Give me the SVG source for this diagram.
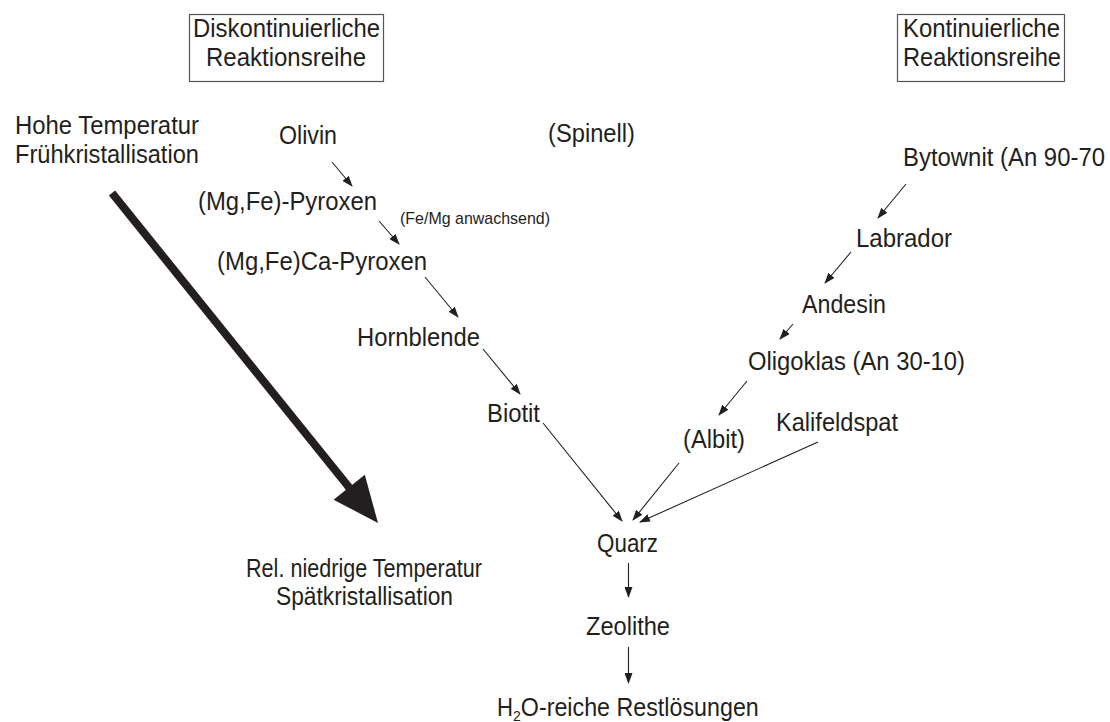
<svg xmlns="http://www.w3.org/2000/svg" width="1110" height="722" viewBox="0 0 1110 722">
<style>
  text { font-family: "Liberation Sans", Arial, sans-serif; font-size: 26px; fill: #231f20; }
  .small { font-size: 17px; }
  .sub { font-size: 14px; }
  .box { fill: #ffffff; stroke: #555555; stroke-width: 1.2; }
  .conn { stroke: #231f20; stroke-width: 1.1; fill: none; marker-end: url(#ah); }
</style>
<defs>
  <marker id="ah" markerUnits="userSpaceOnUse" markerWidth="11" markerHeight="8" refX="10" refY="4" orient="auto">
    <path d="M0,0 L11,4 L0,8 z" fill="#231f20"/>
  </marker>
</defs>
<rect x="0" y="0" width="1110" height="722" fill="#ffffff"/>

<g id="box-diskontinuierlich">
  <rect class="box" x="189.5" y="14.5" width="194" height="67"/>
  <text x="193" y="37" textLength="187" lengthAdjust="spacingAndGlyphs">Diskontinuierliche</text>
  <text x="206" y="66" textLength="160" lengthAdjust="spacingAndGlyphs">Reaktionsreihe</text>
</g>
<g id="box-kontinuierlich">
  <rect class="box" x="897.5" y="14.5" width="167" height="67"/>
  <text x="903" y="37" textLength="157" lengthAdjust="spacingAndGlyphs">Kontinuierliche</text>
  <text x="903" y="66" textLength="158" lengthAdjust="spacingAndGlyphs">Reaktionsreihe</text>
</g>

<g id="label-hoch">
  <text x="15" y="134" textLength="184" lengthAdjust="spacingAndGlyphs">Hohe Temperatur</text>
  <text x="15" y="163" textLength="184" lengthAdjust="spacingAndGlyphs">Frühkristallisation</text>
</g>
<g id="label-niedrig">
  <text x="246" y="577" textLength="236" lengthAdjust="spacingAndGlyphs">Rel. niedrige Temperatur</text>
  <text x="276" y="605" textLength="177" lengthAdjust="spacingAndGlyphs">Spätkristallisation</text>
</g>
<g id="temp-arrow">
  <line x1="112" y1="193" x2="352" y2="491" stroke="#231f20" stroke-width="8"/>
  <polygon points="378,523 333.6,499.7 364.8,474.7" fill="#231f20"/>
</g>

<g id="n-olivin"><text x="279" y="144" textLength="58" lengthAdjust="spacingAndGlyphs">Olivin</text></g>
<g id="n-spinell"><text x="548" y="142" textLength="87" lengthAdjust="spacingAndGlyphs">(Spinell)</text></g>
<g id="n-mgfe-pyroxen"><text x="198" y="210" textLength="179" lengthAdjust="spacingAndGlyphs">(Mg,Fe)-Pyroxen</text></g>
<g id="n-fe-mg"><text class="small" x="400" y="224" textLength="150" lengthAdjust="spacingAndGlyphs">(Fe/Mg anwachsend)</text></g>
<g id="n-ca-pyroxen"><text x="217" y="270" textLength="210" lengthAdjust="spacingAndGlyphs">(Mg,Fe)Ca-Pyroxen</text></g>
<g id="n-hornblende"><text x="357" y="346" textLength="123" lengthAdjust="spacingAndGlyphs">Hornblende</text></g>
<g id="n-biotit"><text x="487" y="422" textLength="53" lengthAdjust="spacingAndGlyphs">Biotit</text></g>

<g id="n-bytownit"><text x="903" y="166" textLength="202" lengthAdjust="spacingAndGlyphs">Bytownit (An 90-70</text></g>
<g id="n-labrador"><text x="856" y="247" textLength="96" lengthAdjust="spacingAndGlyphs">Labrador</text></g>
<g id="n-andesin"><text x="802" y="313" textLength="84" lengthAdjust="spacingAndGlyphs">Andesin</text></g>
<g id="n-oligoklas"><text x="748" y="370" textLength="217" lengthAdjust="spacingAndGlyphs">Oligoklas (An 30-10)</text></g>
<g id="n-albit"><text x="683" y="448" textLength="62" lengthAdjust="spacingAndGlyphs">(Albit)</text></g>
<g id="n-kalifeldspat"><text x="776" y="431" textLength="122" lengthAdjust="spacingAndGlyphs">Kalifeldspat</text></g>

<g id="n-quarz"><text x="597" y="552" textLength="61" lengthAdjust="spacingAndGlyphs">Quarz</text></g>
<g id="n-zeolithe"><text x="586" y="635" textLength="84" lengthAdjust="spacingAndGlyphs">Zeolithe</text></g>
<g id="n-restloesungen"><text x="497" y="716"><tspan textLength="16" lengthAdjust="spacingAndGlyphs">H</tspan><tspan class="sub" dy="5">2</tspan><tspan dy="-5" textLength="238" lengthAdjust="spacingAndGlyphs">O-reiche Restlösungen</tspan></text></g>

<g id="connectors">
  <line class="conn" x1="332" y1="162" x2="352" y2="186"/>
  <line class="conn" x1="379" y1="221" x2="399" y2="244"/>
  <line class="conn" x1="425" y1="277" x2="458" y2="317"/>
  <line class="conn" x1="483" y1="349" x2="520" y2="394"/>
  <line class="conn" x1="543" y1="423" x2="622" y2="521"/>
  <line class="conn" x1="679" y1="463" x2="633" y2="520"/>
  <line class="conn" x1="818" y1="442" x2="640" y2="522"/>
  <line class="conn" x1="906" y1="184" x2="878" y2="218"/>
  <line class="conn" x1="851" y1="252" x2="825" y2="283"/>
  <line class="conn" x1="793" y1="324" x2="780" y2="339"/>
  <line class="conn" x1="747" y1="381" x2="719" y2="415"/>
  <line class="conn" x1="628.5" y1="563" x2="628.5" y2="597"/>
  <line class="conn" x1="628.5" y1="647" x2="628.5" y2="683"/>
</g>
</svg>
